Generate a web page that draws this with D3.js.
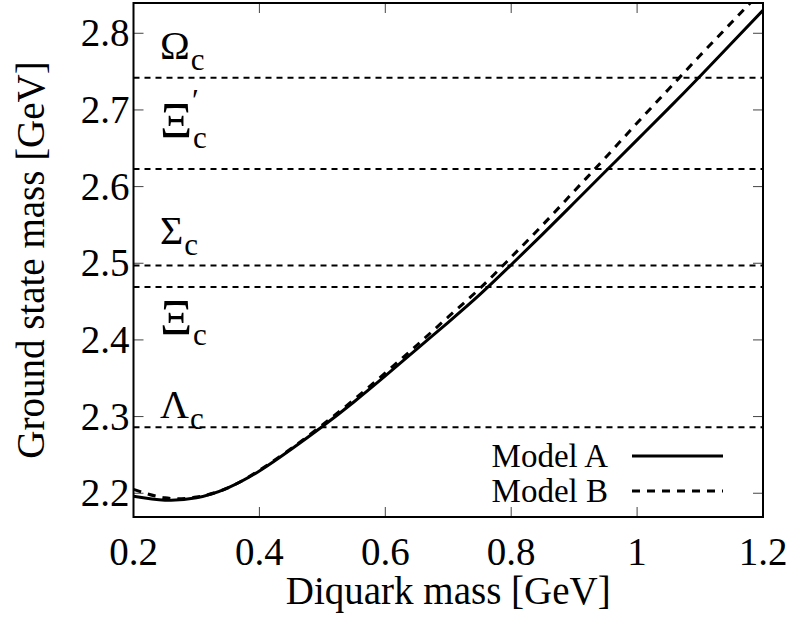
<!DOCTYPE html>
<html lang="en">
<head>
<meta charset="utf-8">
<title>Ground state mass vs diquark mass</title>
<script src="https://cdn.jsdelivr.net/npm/d3@7"></script>
<style>
  body { margin: 0; background: #fff; }
  text { font-family: "Liberation Serif", "Times New Roman", serif; fill: #000; }
</style>
</head>
<body>
<div id="chart"></div>
<script>
// diquark mass [GeV]
var diquark = [0.20, 0.25, 0.30, 0.35, 0.40, 0.45, 0.50, 0.55, 0.60, 0.65, 0.70,
               0.75, 0.80, 0.85, 0.90, 0.95, 1.00, 1.05, 1.10, 1.15, 1.20];
// ground state mass [GeV]
var modelA = [2.196, 2.191, 2.194, 2.207, 2.229, 2.257, 2.287, 2.319, 2.353, 2.388, 2.423,
              2.459, 2.498, 2.538, 2.579, 2.620, 2.661, 2.702, 2.744, 2.787, 2.830];
var modelB = [2.205, 2.194, 2.195, 2.207, 2.230, 2.258, 2.289, 2.322, 2.357, 2.393, 2.430,
              2.467, 2.508, 2.550, 2.594, 2.638, 2.683, 2.727, 2.771, 2.814, 2.857];

// reference baryon levels
var levelSymbol = ["Λ", "Ξ", "Σ", "Ξ", "Ω"];
var levelPrime  = ["", "", "", "′", ""];
var levelMass   = [2.286, 2.469, 2.497, 2.623, 2.742];
var labelMass   = [2.298, 2.408, 2.525, 2.665, 2.767];

var xTicks = [0.2, 0.4, 0.6, 0.8, 1.0, 1.2];
var yTicks = [2.2, 2.3, 2.4, 2.5, 2.6, 2.7, 2.8];

var width = 796, height = 620;
var margin = {left: 133.5, right: 33, top: 3, bottom: 103};

var svg = d3.select("#chart").append("svg")
    .attr("width", width)
    .attr("height", height);

var x = d3.scaleLinear().domain([0.2, 1.2]).range([margin.left, width - margin.right]);
var y = d3.scaleLinear().domain([2.169, 2.8395]).range([height - margin.bottom, margin.top]);

svg.append("clipPath").attr("id", "plot")
  .append("rect")
    .attr("x", x.range()[0]).attr("y", y.range()[1])
    .attr("width", x.range()[1] - x.range()[0])
    .attr("height", y.range()[0] - y.range()[1]);

// ticks on all four sides, pointing inward
var tickLen = 10;
var ticks = svg.append("g").attr("stroke", "#444").attr("stroke-width", 1);
xTicks.forEach(function(t) {
  ticks.append("line").attr("x1", x(t)).attr("x2", x(t))
    .attr("y1", y.range()[0]).attr("y2", y.range()[0] - tickLen);
  ticks.append("line").attr("x1", x(t)).attr("x2", x(t))
    .attr("y1", y.range()[1]).attr("y2", y.range()[1] + tickLen);
});
yTicks.forEach(function(t) {
  ticks.append("line").attr("x1", x.range()[0]).attr("x2", x.range()[0] + tickLen)
    .attr("y1", y(t)).attr("y2", y(t));
  ticks.append("line").attr("x1", x.range()[1]).attr("x2", x.range()[1] - tickLen)
    .attr("y1", y(t)).attr("y2", y(t));
});

// tick labels
svg.append("g").selectAll("text").data(xTicks).enter().append("text")
  .attr("x", function(d) { return x(d); })
  .attr("y", 565)
  .attr("text-anchor", "middle")
  .style("font-size", "39px")
  .text(function(d) { return d3.format("~g")(d); });

svg.append("g").selectAll("text").data(yTicks).enter().append("text")
  .attr("x", x.range()[0] - 4)
  .attr("y", function(d) { return y(d) + 13; })
  .attr("text-anchor", "end")
  .style("font-size", "39px")
  .text(function(d) { return d.toFixed(1); });

// axis titles
svg.append("text")
  .attr("x", (x.range()[0] + x.range()[1]) / 2)
  .attr("y", 604)
  .attr("text-anchor", "middle")
  .style("font-size", "39px")
  .text("Diquark mass [GeV]");

svg.append("text")
  .attr("transform", "translate(44," + ((y.range()[0] + y.range()[1]) / 2) + ") rotate(-90)")
  .attr("text-anchor", "middle")
  .style("font-size", "39px")
  .text("Ground state mass [GeV]");

// horizontal baryon levels
var plot = svg.append("g").attr("clip-path", "url(#plot)");
plot.selectAll("line.level").data(levelMass).enter().append("line")
  .attr("class", "level")
  .attr("x1", x.range()[0]).attr("x2", x.range()[1])
  .attr("y1", function(d) { return y(d); })
  .attr("y2", function(d) { return y(d); })
  .attr("stroke", "#000")
  .attr("stroke-width", 2)
  .attr("stroke-dasharray", "6,5");

// level labels (Xi drawn a bit larger, like the Symbol font glyph)
levelSymbol.forEach(function(s, i) {
  var g = svg.append("g");
  var bx = x(0.242), by = y(labelMass[i]);
  var main = g.append("text").attr("x", bx).attr("y", by)
    .style("font-size", s === "Ξ" ? "50px" : "40px").text(s);
  var w = main.node().getComputedTextLength();
  g.append("text").attr("x", bx + w + 1).attr("y", by + 11)
    .style("font-size", "31px").text("c");
  if (levelPrime[i]) {
    g.append("text").attr("x", bx + w).attr("y", by - 26)
      .style("font-size", "31px").text(levelPrime[i]);
  }
});

// model curves
var pts = function(vals) { return diquark.map(function(d, i) { return [d, vals[i]]; }); };
var line = d3.line()
  .x(function(d) { return x(d[0]); })
  .y(function(d) { return y(d[1]); })
  .curve(d3.curveNatural);

plot.append("path").datum(pts(modelA))
  .attr("d", line)
  .attr("fill", "none")
  .attr("stroke", "#000")
  .attr("stroke-width", 3);

plot.append("path").datum(pts(modelB))
  .attr("d", line)
  .attr("fill", "none")
  .attr("stroke", "#000")
  .attr("stroke-width", 3)
  .attr("stroke-dasharray", "8,7");

// legend
var legendNames = ["Model A", "Model B"];
var legendDash = [null, "8,7"];
legendNames.forEach(function(n, i) {
  var ly = 456 + i * 35;
  svg.append("text").attr("x", 608).attr("y", ly + 11)
    .attr("text-anchor", "end")
    .style("font-size", "33px")
    .text(n);
  svg.append("line")
    .attr("x1", 632).attr("x2", 723)
    .attr("y1", ly).attr("y2", ly)
    .attr("stroke", "#000")
    .attr("stroke-width", 3)
    .attr("stroke-dasharray", legendDash[i]);
});

// frame
svg.append("rect")
  .attr("x", x.range()[0]).attr("y", y.range()[1])
  .attr("width", x.range()[1] - x.range()[0])
  .attr("height", y.range()[0] - y.range()[1])
  .attr("fill", "none")
  .attr("stroke", "#000")
  .attr("stroke-width", 2);
</script>
</body>
</html>
